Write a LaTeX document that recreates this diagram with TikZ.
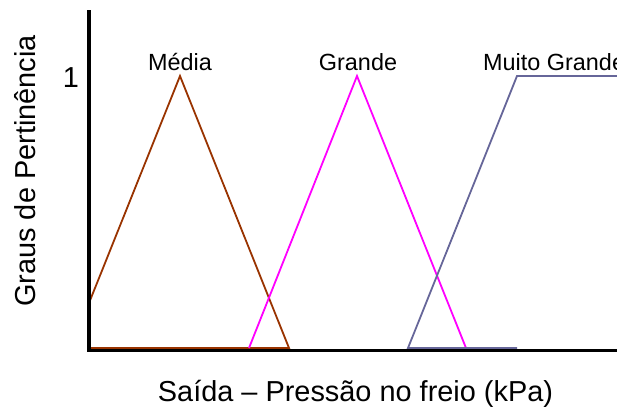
\documentclass[tikz,border=0pt]{standalone}
\usepackage{fontspec}
\setmainfont{Liberation Sans}
\usetikzlibrary{calc}
\definecolor{media}{RGB}{153,51,0}
\definecolor{grande}{RGB}{255,0,255}
\definecolor{muitogrande}{RGB}{102,102,153}
\tikzset{
  mf/.style={line width=1.8bp, line join=miter},
  eixo/.style={line width=3.5bp},
  rotulo/.style={font=\fontsize{23.5}{26}\selectfont, inner sep=0pt, anchor=base},
  titulo/.style={font=\fontsize{29}{32}\selectfont, inner sep=0pt, anchor=base},
}

\begin{document}
\begin{tikzpicture}[x=1bp,y=-1bp]
\useasboundingbox (0,0) rectangle (617,408);
% Media
\coordinate (M0) at (89,348);
\coordinate (M1) at (89,303);
\coordinate (M2) at (180,76);
\coordinate (M3) at (289,348);
\draw [mf, media] (M0) -- (M1) -- (M2) -- (M3) -- cycle;
\node [rotulo] (lm) at ($(M2)+(0,-6)$) {Média};
% Grande
\coordinate (G1) at (249,348);
\coordinate (G2) at (357,76);
\coordinate (G3) at (466,348);
\draw [mf, grande] (G1) -- (G2) -- (G3);
\node [rotulo] (lg) at ($(G2)+(1,-6)$) {Grande};
% Muito Grande
\coordinate (U1) at (408,348);
\coordinate (U2) at (517,76);
\coordinate (U3) at (640,76);
\coordinate (U4) at (517,348);
\draw [mf, muitogrande] (U4) -- (U1) -- (U2) -- (U3);
\node [rotulo, anchor=base west] (lu) at ($(U2)+(-34,-6)$) {Muito Grande};
% eixos
\coordinate (topo) at (89,10);
\coordinate (O) at (89,350.5);
\coordinate (fim) at (620,350.5);
\draw [eixo] (topo) -- ($(O)+(0,1.75)$);
\draw [eixo] ($(O)+(-1.75,0)$) -- (fim);
\node [titulo] (um) at (71,87) {1};
\node [titulo] (xlabel) at (355.5,401) {Saída – Pressão no freio (kPa)};
\node [titulo, rotate=90] (ylabel) at (35,171) {Graus de Pertinência};
\end{tikzpicture}
\end{document}
